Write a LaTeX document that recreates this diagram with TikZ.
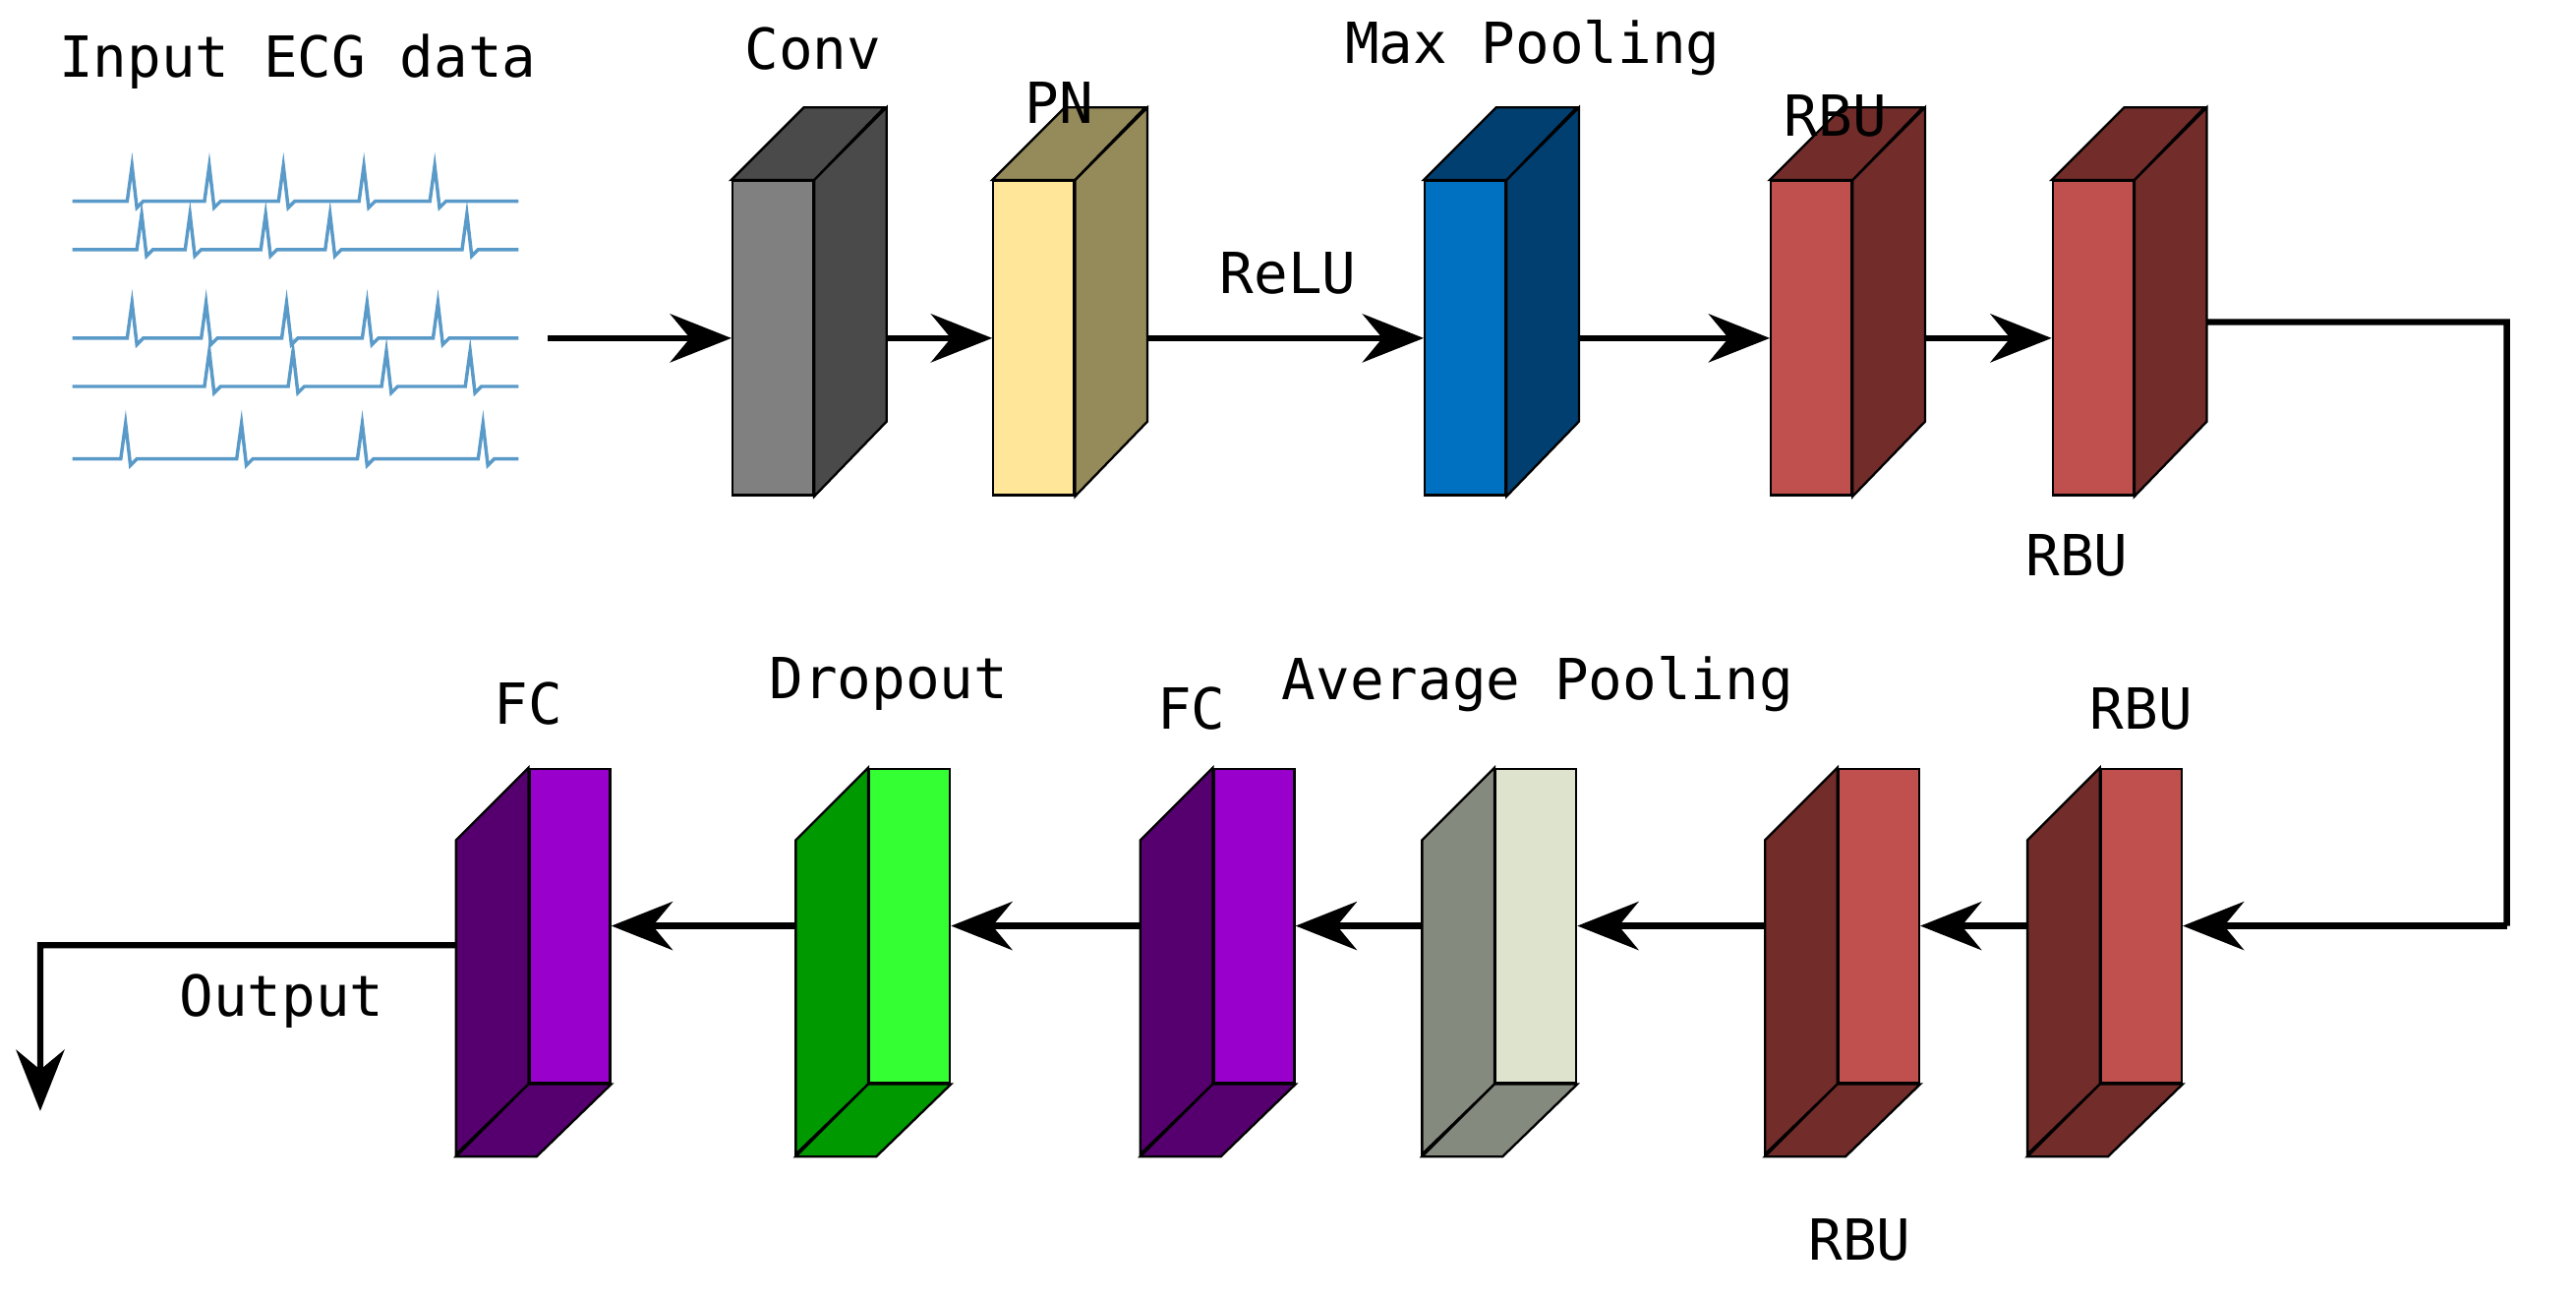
\documentclass[tikz,border=0pt]{standalone}
\usepackage{fontspec}
\setmainfont{DejaVu Sans Mono}
\usetikzlibrary{arrows.meta,calc,positioning}

\definecolor{convF}{HTML}{808080}\definecolor{convS}{HTML}{4A4A4A}
\definecolor{pnF}{HTML}{FFE699}\definecolor{pnS}{HTML}{958A5A}
\definecolor{mpF}{HTML}{0070C0}\definecolor{mpS}{HTML}{003F70}
\definecolor{rbuF}{HTML}{C0504D}\definecolor{rbuS}{HTML}{722C2A}
\definecolor{fcF}{HTML}{9900CC}\definecolor{fcS}{HTML}{560070}
\definecolor{doF}{HTML}{33FF33}\definecolor{doS}{HTML}{009900}
\definecolor{apF}{HTML}{DDE3CC}\definecolor{apS}{HTML}{858A7E}
\definecolor{ecgline}{HTML}{5A9AC8}

\tikzset{
  blockface/.style={draw=black,thin,minimum width=0.5cm,minimum height=1.95cm,inner sep=0pt},
  arr/.style={line width=1.1pt,-{Stealth[length=0.38cm,width=0.3cm]}},
  lbl/.style={font=\fontsize{10}{12}\selectfont},
  ecg/.style={ecgline,line width=0.6pt}
}

% box with depth going up-right
\newcommand\upbox[5]{%
  \node[blockface,fill=#4] (#1) at (#2,#3) {};
  \filldraw[fill=#5,draw=black,thin] (#1.north east) -- ++(45,-45) -- ++(0,195) -- (#1.south east) -- cycle;
  \filldraw[fill=#5,draw=black,thin] (#1.north west) -- ++(45,-45) -- ++(50,0) -- (#1.north east) -- cycle;}
% box with depth going down-left
\newcommand\downbox[5]{%
  \node[blockface,fill=#4] (#1) at (#2,#3) {};
  \filldraw[fill=#5,draw=black,thin] (#1.north west) -- ++(-45,45) -- ++(0,195) -- (#1.south west) -- cycle;
  \filldraw[fill=#5,draw=black,thin] (#1.south west) -- ++(-45,45) -- ++(50,0) -- (#1.south east) -- cycle;}

\begin{document}
\begin{tikzpicture}[x=0.01cm,y=-0.01cm]
  \useasboundingbox (0,0) rectangle (1600,806);

  % ECG traces
  \foreach \yy/\spikes in {125/{82,130,176,226,270},155/{88,118,165,205,290},210/{82,128,178,228,272},240/{130,182,240,292},285/{78,150,225,300}}{
    \draw[ecg] (45,\yy) foreach \s in \spikes {-- (\s-3,\yy) -- (\s,\yy-22) -- (\s+3,\yy+4) -- (\s+7,\yy)} -- (322,\yy);
  }
  \coordinate (ecgout) at (340,210);
  \node[lbl] (tin) at (185,38) {Input ECG data};

  % top row
  \upbox{conv}{480}{210}{convF}{convS}
  \upbox{pn}{642}{210}{pnF}{pnS}
  \upbox{maxp}{910}{210}{mpF}{mpS}
  \upbox{rbua}{1125}{210}{rbuF}{rbuS}
  \upbox{rbub}{1300}{210}{rbuF}{rbuS}

  \node[lbl] (tconv) at (505,30) {Conv};
  \node[lbl] (tpn) at (658,64) {PN};
  \node[lbl] (tmaxp) at (952,30) {Max Pooling};
  \node[lbl] (trbua) at (1140,72) {RBU};
  \node[lbl] (trbub) at (1290,345) {RBU};
  \node[lbl] (trelu) at (800,170) {ReLU};

  \draw[arr] (ecgout) -- (conv.west);
  \draw[arr] ([xshift=0.45cm]conv.east) -- (pn.west);
  \draw[arr] ([xshift=0.45cm]pn.east) -- (maxp.west);
  \draw[arr] ([xshift=0.45cm]maxp.east) -- (rbua.west);
  \draw[arr] ([xshift=0.45cm]rbua.east) -- (rbub.west);

  % bottom row
  \downbox{fca}{354}{575}{fcF}{fcS}
  \downbox{drop}{565}{575}{doF}{doS}
  \downbox{fcb}{779}{575}{fcF}{fcS}
  \downbox{avgp}{954}{575}{apF}{apS}
  \downbox{rbuc}{1167}{575}{rbuF}{rbuS}
  \downbox{rbud}{1330}{575}{rbuF}{rbuS}

  \node[lbl] (tfca) at (328,437) {FC};
  \node[lbl] (tdrop) at (552,425) {Dropout};
  \node[lbl] (tfcb) at (740,440) {FC};
  \node[lbl] (tavgp) at (955,425) {Average Pooling};
  \node[lbl] (trbuc) at (1155,770) {RBU};
  \node[lbl] (trbud) at (1330,440) {RBU};
  \node[lbl] (tout) at (175,622) {Output};

  \coordinate (c1) at (1557,200);
  \coordinate (c2) at (1557,575);
  \coordinate (c3) at (25,587);
  \coordinate (c4) at (25,690);
  \draw[line width=1.1pt] ([xshift=0.45cm,yshift=0.1cm]rbub.east) -- (c1) -- (c2);
  \draw[arr] (c2) -- (rbud.east);
  \draw[arr] ([xshift=-0.45cm]rbud.west) -- (rbuc.east);
  \draw[arr] ([xshift=-0.45cm]rbuc.west) -- (avgp.east);
  \draw[arr] ([xshift=-0.45cm]avgp.west) -- (fcb.east);
  \draw[arr] ([xshift=-0.45cm]fcb.west) -- (drop.east);
  \draw[arr] ([xshift=-0.45cm]drop.west) -- (fca.east);
  \draw[arr] ([xshift=-0.45cm,yshift=-0.12cm]fca.west) -- (c3) -- (c4);
\end{tikzpicture}
\end{document}
